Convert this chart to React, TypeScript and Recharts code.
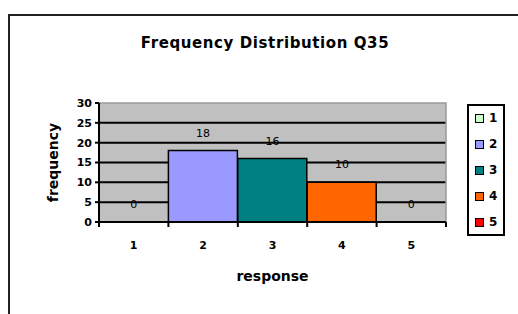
import React from "react";
import { ComposedChart, Bar, Line, XAxis, YAxis, CartesianGrid, Cell, LabelList, ReferenceArea } from "recharts";

const responses = ["1", "2", "3", "4", "5"];
const counts = [0, 18, 16, 10, 0];
const colors = ["#CCFFCC", "#9999FF", "#008080", "#FF6600", "#FF0000"];
const yTicks = [0, 5, 10, 15, 20, 25, 30];
const boundaryTicks = [0, 1, 2, 3, 4, 5];

const data = responses.map((r, i) => ({ name: r, value: counts[i], edge: i + 0.5 }));

const font = "'DejaVu Sans', sans-serif";

// draws only a short tick mark below the axis, at the category boundary
const EdgeTick = (props: any) => {
    const { x, y } = props;
    return <line x1={x} x2={x} y1={y - 7} y2={y - 2} stroke="#000" strokeWidth={2} />;
};

const LegendBox = () => (
    <div
        style={{
            position: "absolute",
            left: 467,
            top: 104,
            width: 34,
            height: 128,
            border: "2px solid #000",
            boxSizing: "content-box",
            fontFamily: font,
            fontWeight: "bold",
            fontSize: 12,
        }}
    >
        {responses.map((r, i) => (
            <div
                key={r}
                style={{ position: "absolute", left: 6, top: 6 + i * 26, display: "flex", alignItems: "center", height: 12 }}
            >
                <span
                    style={{
                        display: "inline-block",
                        width: 7,
                        height: 7,
                        background: colors[i],
                        border: "1px solid #000",
                        marginRight: 5,
                    }}
                />
                <span>{r}</span>
            </div>
        ))}
    </div>
);

export default function App() {
    return (
        <div style={{ position: "absolute", left: 0, top: 0, width: 518, height: 314, overflow: "hidden", background: "#fff" }}>
            {/* chart frame, runs off the right and bottom edge */}
            <div
                style={{
                    position: "absolute",
                    left: 8,
                    top: 14,
                    width: 560,
                    height: 360,
                    border: "2px solid #222",
                }}
            />
            <div
                style={{
                    position: "absolute",
                    left: 0,
                    width: 530,
                    top: 34,
                    textAlign: "center",
                    fontFamily: font,
                    fontWeight: "bold",
                    fontSize: 15,
                    letterSpacing: 0.6,
                    lineHeight: "18px",
                }}
            >
                Frequency Distribution Q35
            </div>
            <div style={{ position: "absolute", left: 0, top: 0 }}>
                <ComposedChart
                    width={518}
                    height={314}
                    data={data}
                    barCategoryGap={0}
                    margin={{ top: 103, right: 72, bottom: 32, left: 7 }}
                >
                    <CartesianGrid
                        xAxisId="cat"
                        vertical={false}
                        horizontalValues={[5, 10, 15, 20, 25]}
                        stroke="#000"
                        strokeWidth={2}
                        fill="#C0C0C0"
                        fillOpacity={1}
                    />
                    <XAxis
                        xAxisId="cat"
                        dataKey="name"
                        axisLine={false}
                        tickLine={false}
                        tickSize={4}
                        tickMargin={14}
                        height={59}
                        tick={{ fontSize: 11, fontWeight: "bold", fill: "#000", fontFamily: font }}
                        label={{
                            value: "response",
                            position: "insideBottom",
                            offset: 1,
                            style: { fontSize: 14, fontWeight: "bold", fill: "#000", fontFamily: font },
                        }}
                    />
                    {/* axis line and tick marks between the categories */}
                    <XAxis
                        xAxisId="a"
                        type="number"
                        dataKey="edge"
                        domain={[0, 5]}
                        ticks={boundaryTicks}
                        interval={0}
                        height={1}
                        tick={<EdgeTick />}
                        axisLine={{ stroke: "#000", strokeWidth: 2 }}
                        tickLine={false}
                        tickSize={5}
                        tickMargin={2}
                    />
                    <YAxis
                        domain={[0, 30]}
                        ticks={yTicks}
                        interval={0}
                        width={92}
                        axisLine={{ stroke: "#000", strokeWidth: 2 }}
                        tickLine={{ stroke: "#000", strokeWidth: 2 }}
                        tickSize={4}
                        tickMargin={3}
                        tick={{ fontSize: 11, fontWeight: "bold", fill: "#000", fontFamily: font }}
                        label={{
                            value: "frequency",
                            angle: -90,
                            position: "center",
                            style: { fontSize: 14, fontWeight: "bold", fill: "#000", fontFamily: font },
                        }}
                    />
                    <ReferenceArea xAxisId="cat" y1={0} y2={30} fill="none" stroke="#999" strokeWidth={1.5} />
                    <Bar xAxisId="cat" dataKey="value" stroke="#000" strokeWidth={1.5} isAnimationActive={false}>
                        {data.map((d, i) => (
                            <Cell key={`cell-${i}`} fill={colors[i]} />
                        ))}
                    </Bar>
                    {/* invisible series that carries the value labels, also for the zero bars */}
                    <Line
                        xAxisId="a"
                        dataKey="value"
                        stroke="none"
                        dot={false}
                        activeDot={false}
                        isAnimationActive={false}
                    >
                        <LabelList
                            dataKey="value"
                            position="top"
                            offset={14}
                            style={{ fontSize: 11, fill: "#000", fontFamily: font }}
                        />
                    </Line>
                </ComposedChart>
            </div>
            <LegendBox />
        </div>
    );
}
